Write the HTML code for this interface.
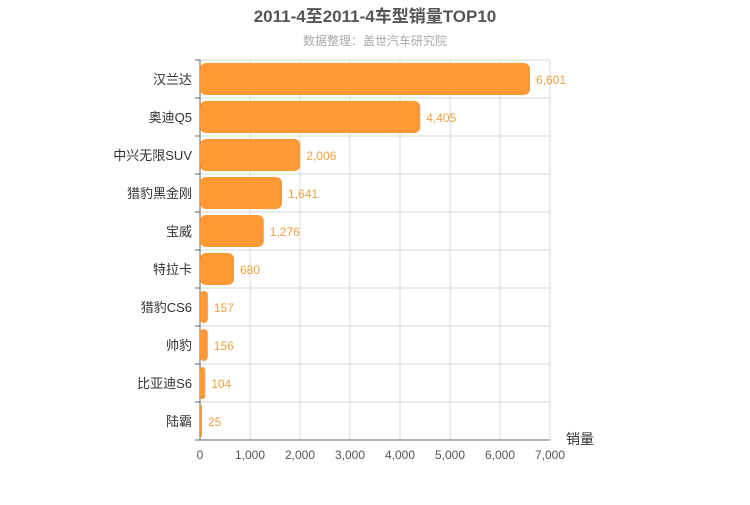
<!DOCTYPE html>
<html><head><meta charset="utf-8"><style>
body{margin:0;background:#fff;}
svg{font-family:"Liberation Sans","Noto Sans CJK SC",sans-serif;}
</style></head><body>
<svg id="c" width="750" height="500">
<text x="375" y="22" text-anchor="middle" font-size="17" font-weight="bold" fill="#555">2011-4至2011-4车型销量TOP10</text>
<text x="375" y="45" text-anchor="middle" font-size="12" fill="#aaa">数据整理：盖世汽车研究院</text>
<text x="580" y="444" text-anchor="middle" font-size="14" fill="#333">销量</text>
</svg>
<script>
const categories=["汉兰达","奥迪Q5","中兴无限SUV","猎豹黑金刚","宝威","特拉卡","猎豹CS6","帅豹","比亚迪S6","陆霸"];
const values=[6601,4405,2006,1641,1276,680,157,156,104,25];
const ticks=[0,1000,2000,3000,4000,5000,6000,7000];
const svg=document.getElementById('c');const NS='http://www.w3.org/2000/svg';
const L=200,R=550,T=60,B=440,max=7000;
const x=v=>L+(R-L)*v/max;const rowH=(B-T)/categories.length;const y=i=>T+i*rowH;
function mk(t,a){const e=document.createElementNS(NS,t);for(const k in a)e.setAttribute(k,a[k]);svg.appendChild(e);return e;}
ticks.forEach((t,i)=>{
 const g=mk('line',{x1:x(t),x2:x(t),y1:T,y2:B,stroke:'#d8d8d8'});
 
 
 const tl=mk('text',{x:x(t),y:B+19,'text-anchor':'middle','font-size':12,fill:'#555'});
 tl.textContent=t.toLocaleString('en-US');
 
 
});
for(let i=0;i<categories.length;i++){
 const h=mk('line',{x1:L,x2:R,y1:y(i),y2:y(i),stroke:'#d8d8d8'});
 
 
}
const ax=mk('line',{x1:L,x2:L,y1:T,y2:B,stroke:'#666'});


const bx=mk('line',{x1:L,x2:R,y1:B,y2:B,stroke:'#666'});


for(let i=0;i<=categories.length;i++){
 const tk=mk('line',{x1:L-5,x2:L,y1:y(i),y2:y(i),stroke:'#666'});
 
 
}
categories.forEach((c,i)=>{
 const cy=y(i)+rowH/2;
 const w=Math.max(x(values[i])-L,2);
 const b=mk('rect',{x:L,y:cy-16,width:w,height:32,rx:Math.min(6,w/2),fill:'#ff9933'});
 
 
 const lb=mk('text',{x:L-8,y:cy+5,'text-anchor':'end','font-size':13,fill:'#333'});
 lb.textContent=c;
 
 
 const vl=mk('text',{x:L+w+6,y:cy+5,'font-size':12,fill:'#f0a040'});
 vl.textContent=values[i].toLocaleString('en-US');
 
 
});
</script>
</body></html>
